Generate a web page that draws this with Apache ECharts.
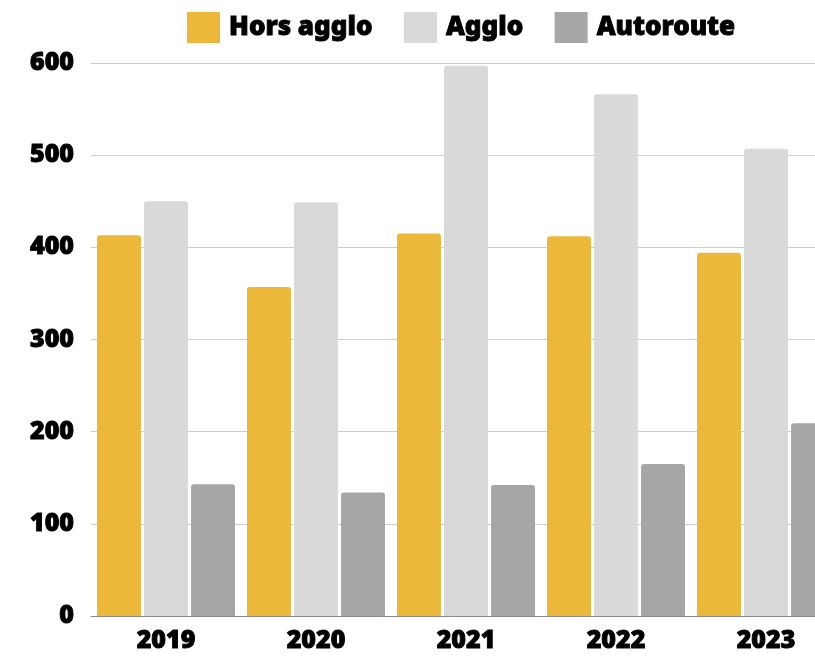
<!DOCTYPE html>
<html><head><meta charset="utf-8">
<script src="https://cdn.jsdelivr.net/npm/echarts@6/dist/echarts.min.js"></script>
<style>html,body{margin:0;padding:0;background:#fff}#c{width:815px;height:656px}</style>
</head><body><div id="c"></div>
<script>
const categories = ['2019', '2020', '2021', '2022', '2023'];
const horsAgglo = [413, 357, 415, 412, 394];
const agglo = [450, 449, 597, 566, 507];
const autoroute = [143, 134, 142, 165, 209];
const seriesNames = ['Hors agglo', 'Agglo', 'Autoroute'];
const yTicks = [0, 100, 200, 300, 400, 500, 600];

const FONT = '"Noto Sans", "Open Sans", sans-serif';
const colors = ['#EBB839', '#D9D9D9', '#A6A6A6'];
const heavy = {fontFamily: FONT, fontWeight: 900, color: '#000', textBorderColor: '#000', textBorderWidth: 0.9};
const chart = echarts.init(document.getElementById('c'), null, {renderer: 'canvas'});
const mk = (name, data, color) => ({
  name, type: 'bar', data,
  barGap: '7%', barCategoryGap: '8%',
  itemStyle: {color, borderRadius: [3, 3, 0, 0]}
});
chart.setOption({
  animation: false,
  color: colors,
  legend: {
    top: 12, left: 187, padding: 0, itemWidth: 33, itemHeight: 31, itemGap: 31,
    icon: 'rect',
    data: seriesNames,
    textStyle: Object.assign({fontSize: 26, padding: [0, 0, 0, 4]}, heavy)
  },
  grid: {left: 91, top: 63, width: 750, height: 553, containLabel: false, outerBoundsMode: 'none'},
  xAxis: {
    type: 'category', data: categories,
    axisTick: {show: false},
    axisLine: {lineStyle: {color: '#888', width: 1}},
    axisLabel: Object.assign({fontSize: 25, margin: 12}, heavy)
  },
  yAxis: {
    type: 'value', min: yTicks[0], max: yTicks[yTicks.length - 1], interval: 100,
    axisLine: {show: false}, axisTick: {show: false},
    splitLine: {lineStyle: {color: '#CCCCCC', width: 1}},
    axisLabel: Object.assign({fontSize: 25, margin: 17}, heavy)
  },
  series: [
    mk(seriesNames[0], horsAgglo, colors[0]),
    mk(seriesNames[1], agglo, colors[1]),
    mk(seriesNames[2], autoroute, colors[2])
  ]
});
</script></body></html>
